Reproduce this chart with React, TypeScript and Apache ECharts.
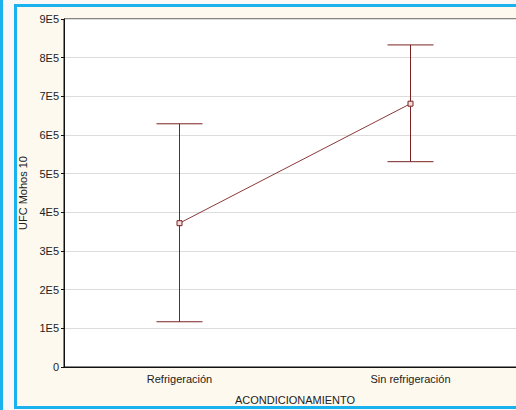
import React, { useEffect, useRef } from "react";
import * as echarts from "echarts";

const categories = ["Refrigeración", "Sin refrigeración"];
const means = [372000, 681000];
const lowerBounds = [117000, 531000];
const upperBounds = [629000, 833000];
const yTickLabels = ["0", "1E5", "2E5", "3E5", "4E5", "5E5", "6E5", "7E5", "8E5", "9E5"];

const MAROON = "#7a2222";
const FONT = "Liberation Sans";

export default function App() {
  const ref = useRef<HTMLDivElement>(null);
  useEffect(() => {
    document.body.style.margin = "0";
    document.body.style.overflow = "hidden";
    if (!ref.current) return;
    const chart = echarts.init(ref.current, null, { renderer: "svg" });
    const errData = categories.map((_, i) => [i, lowerBounds[i], upperBounds[i]]);
    chart.setOption({
      animation: false,
      backgroundColor: "#f8f8f8",
      graphic: [
        { type: "rect", z: -100, silent: true, shape: { x: 0, y: 0, width: 3, height: 410 }, style: { fill: "#1ab2ee" } },
        {
          type: "rect",
          z: -100,
          silent: true,
          shape: { x: 15.5, y: 5.5, width: 540, height: 402 },
          style: { fill: "#fdf9ef", stroke: "#1ab2ee", lineWidth: 3 },
        },
      ],
      grid: {
        left: 64,
        top: 19,
        width: 462,
        height: 351,
        show: true,
        backgroundColor: "#ffffff",
        borderColor: "#111",
        borderWidth: 1,
      },
      xAxis: [
        {
          type: "category",
          data: categories,
          boundaryGap: true,
          name: "ACONDICIONAMIENTO",
          nameLocation: "middle",
          nameGap: 27,
          nameTextStyle: { fontFamily: FONT, fontSize: 11, color: "#222" },
          axisLine: { lineStyle: { color: "#111" } },
          axisTick: { alignWithLabel: true, length: 3, lineStyle: { color: "#111" } },
          axisLabel: { fontFamily: FONT, fontSize: 11, color: "#222", margin: 6 },
          splitLine: { show: false },
        },
        {
          type: "category",
          data: categories,
          position: "top",
          boundaryGap: true,
          axisLine: { show: false },
          axisTick: { alignWithLabel: true, inside: true, length: 3, lineStyle: { color: "#111" } },
          axisLabel: { show: false },
          splitLine: { show: false },
        },
      ],
      yAxis: {
        type: "value",
        min: 0,
        max: 900000,
        interval: 100000,
        name: "UFC Mohos 10",
        nameLocation: "middle",
        nameGap: 30,
        nameTextStyle: { fontFamily: FONT, fontSize: 11, color: "#222" },
        axisLine: { show: true, lineStyle: { color: "#111" } },
        axisTick: { show: true, length: 3, lineStyle: { color: "#111" } },
        axisLabel: {
          fontFamily: FONT,
          fontSize: 11,
          color: "#222",
          margin: 5,
          formatter: (v: number) => yTickLabels[Math.round(v / 100000)] ?? String(v),
        },
        splitLine: { show: true, lineStyle: { color: "#dcdcdc", width: 1 } },
      },
      series: [
        {
          type: "custom",
          data: errData,
          encode: { x: 0, y: [1, 2] },
          z: 3,
          renderItem: (params: any, api: any) => {
            const x = api.value(0);
            const lo = api.coord([x, api.value(1)]);
            const hi = api.coord([x, api.value(2)]);
            const hw = 23;
            const style = { stroke: MAROON, lineWidth: 1 };
            return {
              type: "group",
              children: [
                { type: "line", shape: { x1: lo[0], y1: lo[1], x2: hi[0], y2: hi[1] }, style },
                { type: "line", shape: { x1: lo[0] - hw, y1: lo[1], x2: lo[0] + hw, y2: lo[1] }, style },
                { type: "line", shape: { x1: hi[0] - hw, y1: hi[1], x2: hi[0] + hw, y2: hi[1] }, style },
              ],
            };
          },
        },
        {
          type: "line",
          data: means,
          z: 4,
          symbol: "rect",
          symbolSize: 5,
          lineStyle: { color: "#8a3a3a", width: 1 },
          itemStyle: { color: "#f3dede", borderColor: MAROON, borderWidth: 1 },
        },
      ],
    });
    return () => chart.dispose();
  }, []);
  return (
    <div style={{ width: 516, height: 410, overflow: "hidden", position: "relative" }}>
      <div ref={ref} style={{ width: 540, height: 410 }} />
    </div>
  );
}
